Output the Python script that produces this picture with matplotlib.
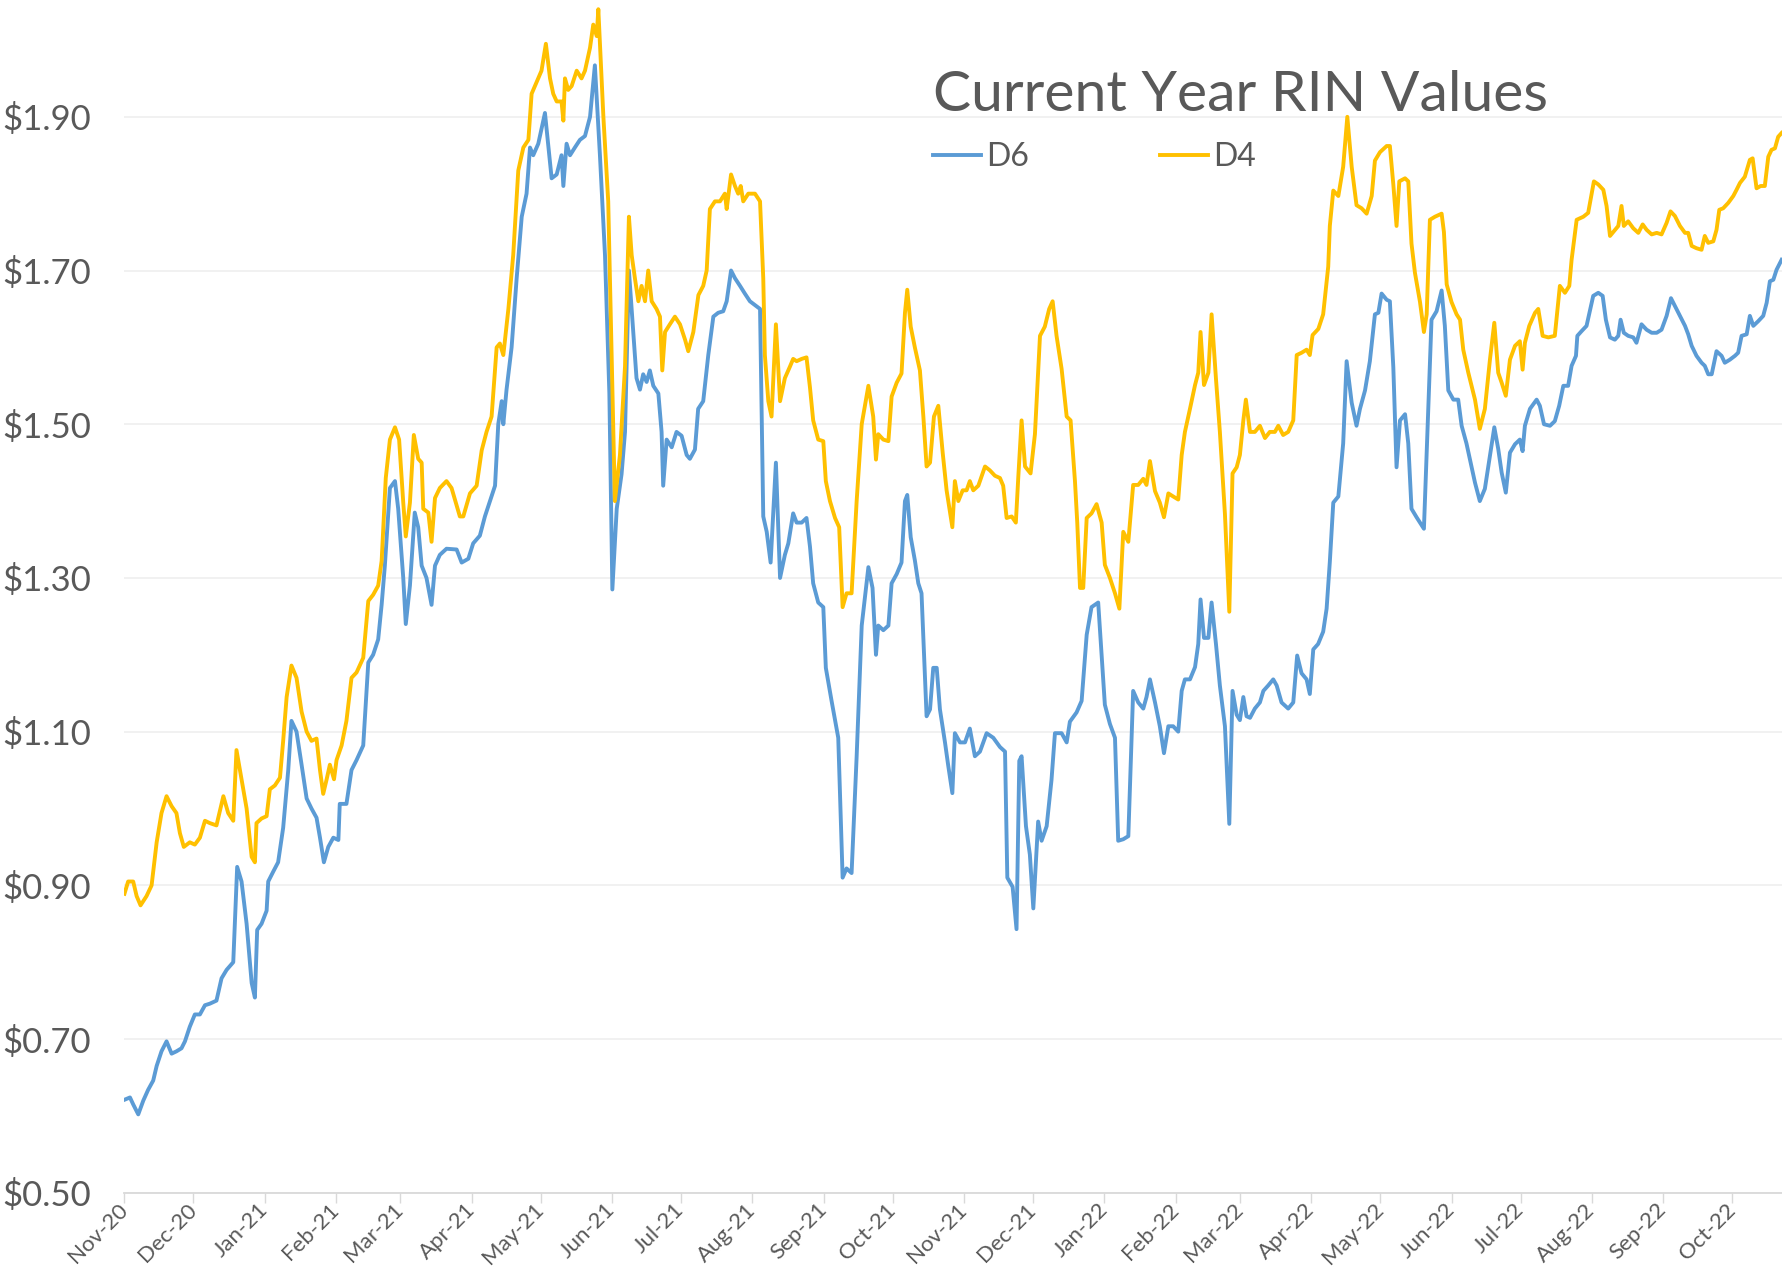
import matplotlib
matplotlib.use('Agg')
import matplotlib.pyplot as plt
import matplotlib.dates as mdates
import matplotlib.ticker as mticker
import pandas as pd

start = pd.Timestamp('2020-11-01')  # day 0 of the day offsets below

# D6 RIN price (days since 1 Nov 2020, $)
d6_day = [0, 2.4, 3.8, 6, 8.2, 10.3, 12.5, 14, 16.1, 18.3, 20.5, 22.6, 24.8, 26.3, 28.4, 30.6, 32.8, 35, 37.1, 40,
          42.2, 44.4, 47.3, 49, 50.9, 53.1, 55.3, 56.7, 57.7, 59.6, 61.8, 62.5, 64.7, 66.8, 69, 71.2, 72.6, 74.8, 77,
          79.2, 81.3, 83.5, 85, 86.7, 88.6, 90.8, 93, 93.6, 96.5, 98.7, 100.9, 103.8, 106, 108.1, 110.3, 111.8, 113.2,
          115.4, 117.6, 119, 121.2, 122.3, 124.1, 126.2, 127.7, 129.2, 131.3, 133.5, 135, 137.1, 140,
          144.4, 146.6, 149.5, 151.6, 154.5, 156.7, 158.9, 161.1, 162.5, 164, 164.7, 166.1, 168.3, 170.5, 172.7, 174.8,
          176.3, 177.7, 179.9, 182.8, 185.7, 187.9, 190, 190.8, 192.2, 193.7, 195.8, 198, 200.2, 202.4, 204.5, 206.7,
          208.9, 210.8, 212.1, 214, 216.1, 217.6, 219.3, 221.2, 222.6, 224.1, 225.5, 227, 228.4, 229.9, 232.1, 233.5,
          234.2, 235.7, 237.9, 240, 242.2, 244.4, 245.8, 248, 249.4, 251.6, 253.8, 256, 258.1, 260.3, 261.8, 263.7,
          265.4, 267.6, 269.7, 271.9, 274.1, 276.3, 277.7, 279.2, 280.9, 283.2, 285, 287.1, 288.6,
          290.7, 292.2, 294.4, 296.5, 298, 299.4, 301.6, 303.8, 304.9, 307.4, 310.3, 312.2, 313.9, 316.1, 318.3, 320.5,
          323.4, 325.2, 326.7, 327.7, 329.9, 332.1, 333.5, 335.7, 337.8, 339.3, 340.3, 341.8, 343.6, 345.1, 346.5,
          348.7, 350.2, 351.6, 353.1, 354.5, 356.7, 358.1, 359.9, 361, 363.2, 365.4, 367.5, 369.7, 371.9, 374.8, 377.7,
          380.6, 382.8, 383.8, 386.1, 387.8, 389, 390, 391.9, 393.6, 395.1, 397.2, 398.7, 400.9, 403, 404.5, 407.4,
          409.6, 411, 413.9, 416.1, 418.3, 420.4, 423.3, 424.8, 426.2, 428.4, 430.6, 432, 434.2, 436.4,
          438.5, 440.7, 442.9, 444.3, 445.8, 448, 450.1, 451.9, 453.8, 455.9, 458.1, 459.6, 461, 463.2, 465.4, 466.8,
          467.8, 469.3, 471.2, 472.6, 474.5, 476.2, 478.4, 480.3, 481.7, 483.5, 484.9, 486.4, 487.8, 489.3, 491.4,
          493.6, 495.1, 497.2, 499.4, 500.9, 503, 505.9, 508.1, 509.8, 511.7, 513.9, 515.3, 516.8, 518.9, 521.1, 522.6,
          524, 525.5, 527.7, 529.8, 531.3, 533.5, 535.6, 537.1, 539.3, 541.4, 543.6, 545.1, 546.5, 548.7, 550.1, 551.6,
          553, 554.5, 556.7, 558.1, 559.5, 561.7, 564.9, 566.8, 568.2, 570.4, 572.6, 574, 575.5, 577.7, 579.8, 581.3,
          583.4, 587.1, 589.2, 591.4, 593.6, 595.5, 597.2, 598.7, 600.5, 602.3, 604.5, 606.6, 607.8, 608.8, 611,
          613.9, 615.3, 617.1, 619.7, 621.8, 623.7, 625.5, 627.6, 629.1, 631, 631.6, 633.4, 635.6, 638.5, 640.7, 642.6,
          644, 645.8, 647.9, 649.4, 650.4, 651.8, 653.7, 655.9, 657.3, 659.5, 661.7, 663.9, 666.1, 668.2, 670.4, 672.3,
          674, 676.2, 678.4, 679.8, 681.3, 683.4, 685.6, 687, 688.5, 690, 692.1, 694.3, 695.7, 697.9, 700.1, 701.5,
          703, 705.2, 706.6, 708.1, 710.2, 712.4, 713.9, 715.3, 716.8, 718.2, 720.4]
d6_val = [0.621, 0.624, 0.615, 0.602, 0.62, 0.634, 0.646, 0.665, 0.684, 0.697, 0.681, 0.684, 0.688, 0.697, 0.716,
          0.732, 0.732, 0.744, 0.746, 0.75, 0.779, 0.79, 0.80, 0.924, 0.905, 0.85, 0.773, 0.754, 0.842, 0.85, 0.867,
          0.905, 0.918, 0.93, 0.975, 1.05, 1.114, 1.10, 1.057, 1.013, 1.00, 0.988, 0.962, 0.93, 0.95, 0.962, 0.959,
          1.006, 1.006, 1.05, 1.063, 1.082, 1.19, 1.20, 1.22, 1.265, 1.316, 1.417, 1.426, 1.39, 1.30, 1.24, 1.29,
          1.385, 1.366, 1.316, 1.30, 1.265, 1.316, 1.33, 1.338,
          1.337, 1.32, 1.325, 1.345, 1.355, 1.38, 1.40, 1.42, 1.50, 1.53, 1.50, 1.545, 1.60, 1.69, 1.77, 1.80, 1.86,
          1.85, 1.865, 1.905, 1.82, 1.825, 1.85, 1.81, 1.865, 1.85, 1.86, 1.87, 1.875, 1.90, 1.967, 1.85, 1.72, 1.54,
          1.285, 1.39, 1.435, 1.49, 1.70, 1.62, 1.56, 1.545, 1.565, 1.555, 1.57, 1.55, 1.54, 1.49, 1.42, 1.48, 1.47,
          1.49, 1.485, 1.46, 1.455, 1.467, 1.52, 1.53, 1.59, 1.64, 1.645, 1.647, 1.66, 1.70, 1.69, 1.68, 1.67, 1.66,
          1.655, 1.65, 1.38, 1.36, 1.32, 1.45, 1.30, 1.33, 1.345,
          1.384, 1.372, 1.372, 1.378, 1.341, 1.293, 1.268, 1.262, 1.183, 1.14, 1.092, 0.91, 0.922, 0.916, 1.068,
          1.238, 1.314, 1.287, 1.20, 1.238, 1.232, 1.238, 1.293, 1.305, 1.32, 1.40, 1.408, 1.353, 1.323, 1.293, 1.28,
          1.12, 1.129, 1.183, 1.183, 1.129, 1.086, 1.056, 1.02, 1.098, 1.086, 1.086, 1.104, 1.068, 1.074, 1.098, 1.092,
          1.08, 1.074, 0.91, 0.898, 0.843, 1.062, 1.068, 0.977, 0.94, 0.87, 0.983, 0.958, 0.977, 1.037, 1.098, 1.098,
          1.086, 1.113, 1.125, 1.14, 1.226, 1.262, 1.268, 1.20, 1.135, 1.11, 1.092, 0.958, 0.96, 0.964,
          1.153, 1.138, 1.13, 1.145, 1.168, 1.138, 1.107, 1.072, 1.107, 1.107, 1.10, 1.153, 1.168, 1.168, 1.184, 1.214,
          1.272, 1.222, 1.222, 1.268, 1.214, 1.16, 1.107, 0.98, 1.153, 1.122, 1.115, 1.145, 1.12, 1.118, 1.13, 1.138,
          1.153, 1.16, 1.168, 1.16, 1.138, 1.13, 1.138, 1.199, 1.176, 1.168, 1.149, 1.207, 1.214, 1.23, 1.26, 1.321,
          1.398, 1.406, 1.475, 1.582, 1.528, 1.498, 1.52, 1.544, 1.582, 1.643, 1.645, 1.67, 1.662, 1.66, 1.574, 1.444,
          1.505, 1.513, 1.475, 1.39, 1.379, 1.364, 1.52, 1.636, 1.647, 1.674, 1.628, 1.544, 1.532, 1.532, 1.498,
          1.475, 1.424, 1.40, 1.416, 1.459, 1.496, 1.468, 1.437, 1.411, 1.463, 1.474, 1.48, 1.465, 1.498, 1.52,
          1.532, 1.524, 1.50, 1.498, 1.504, 1.524, 1.55, 1.55, 1.576, 1.589, 1.615, 1.621, 1.628, 1.667, 1.671, 1.667,
          1.636, 1.613, 1.61, 1.615, 1.636, 1.619, 1.615, 1.613, 1.606, 1.63, 1.623, 1.619, 1.619, 1.623, 1.641, 1.664,
          1.654, 1.641, 1.628, 1.617, 1.602, 1.589, 1.58, 1.576, 1.565, 1.565, 1.595, 1.589, 1.58, 1.584, 1.589, 1.593,
          1.615, 1.617, 1.641, 1.628, 1.634, 1.641, 1.658, 1.686, 1.688, 1.701, 1.714]

# D4 RIN price (days since 1 Nov 2020, $)
d4_day = [0, 1.6, 3.8, 5.3, 7, 9.6, 11.8, 14, 16.1, 18.3, 20.5, 22.6, 24.1, 25.8, 28.4, 30.6, 32.8, 35, 37.1, 40, 43,
          45.1, 47.3, 48.7, 50.9, 53.1, 55.3, 56.7, 57.4, 59.6, 61.8, 63.2, 65.4, 67.6, 69, 70.5, 72.6, 74.8, 77, 79.2,
          81.3, 83.5, 85, 86.4, 87.9, 89.3, 91.1, 92.2, 94.4, 96.5, 98.7, 100.9, 103.8, 106, 108.1, 110.3, 111.8,
          113.6, 115.4, 117.6, 119.4, 121.2, 122.3, 124.1, 125.8, 127.7, 129.2, 129.9, 132.1, 133.5, 135, 137.1, 140,
          142.2, 145.8, 147.3, 150.2, 153.1, 155.3, 157.4, 159.6, 161.8, 163.2, 164.7, 166.9, 169, 171.2, 173.4,
          175.6, 177, 179.9, 181.3, 183.2, 185, 186.4, 187.9, 190, 190.8, 191.5, 192.9, 194.4, 196.6, 198.7, 200.2,
          202.4, 203.8, 205.3, 206, 208.2, 210.3, 211.8, 213.2, 215.4, 217.6, 219.3, 220.5, 221.9, 223.4, 224.8,
          226.3, 227.7, 229.2, 231.3, 232.8, 233.8, 235, 237.1, 239.3, 241.5, 243.7, 245.1, 247.3, 249.5, 251.6,
          253.1, 254.5, 256.7, 258.9, 261, 261.8, 263.7, 265.4, 266.8, 267.9, 269, 271.2, 274.1, 276.3, 277.7, 278.4,
          279.9, 281.3, 283.2, 285, 287.1, 289.3,
          290.7, 292.2, 294.4, 296.5, 298, 299.4, 301.6, 303.8, 304.9, 306.7, 308.9, 310.7, 312.2, 313.9, 316.1,
          318.3, 320.5, 323.4, 325.5, 326.7, 327.7, 329.9, 332.1, 333.5, 335.7, 337.8, 339.3, 340.3, 341.8, 343.6,
          345.8, 347.3, 348.7, 350.2, 351.9, 353.8, 355.7, 357.4, 359.9, 361, 362.5, 364.4, 366.1, 367.5, 369, 371.2,
          374.1, 376.2, 378.4, 380.6, 382, 383.5, 385.7, 387.5, 388.6, 390, 391.5, 393.9, 395.8, 398, 400.1, 402,
          403.5, 405.2, 407.4, 409.6, 411.3, 413.2, 414.2, 415.4, 416.8, 418.3, 420.4, 422.6, 424.8, 426.2, 428.4,
          430.6, 432.5, 434.2, 436.4,
          438.5, 440.7, 442.9, 444.3, 445.8, 448, 450.1, 451.9, 453.8, 455.9, 458.1, 459.6, 461, 463.2, 465.4, 466.8,
          467.8, 469.3, 471.2, 472.6, 474.5, 476.2, 478.4, 480.3, 481.7, 483.5, 484.9, 486.4, 487.5, 489.3, 491.4,
          493.6, 495.8, 497.9, 500.1, 501.6, 503.7, 505.9, 508.1, 509.6, 511.7, 513.9, 515.3, 516.5, 519, 521.1,
          523.3, 524, 525.5, 527.7, 529.8, 531.6, 533.5, 535.6, 537.8, 540, 542.2, 543.6, 545.8, 548.7, 550.1, 551.6,
          553, 554.2, 556.7, 558.1, 559.5, 561, 563.2, 564.9, 566.1, 567.5, 569.7, 572.6, 573.6, 574.8, 576.9, 579.1,
          580.6, 582, 584.2,
          587.1, 589.2, 591.4, 593.6, 595.5, 597.2, 598.7, 600.5, 602.3, 604.5, 606.6, 607.8, 608.8, 610.7, 613.2,
          614.6, 616.5, 619, 621.8, 624, 626.2, 628.1, 629.1, 631.3, 634.2, 636.3, 638.8, 640.7, 642.9, 644.3, 645.8,
          648, 649.4, 650.8, 651.8, 653.7, 655.9, 658.1, 660, 661.7, 663.9, 666.1, 668.2, 670.4, 672.1, 674, 676.2,
          678.4, 679.8, 681.3, 683.4, 685.6, 687, 688.5, 690.7, 692.1, 693.3, 695, 697.2, 699.4, 700.8, 702.3, 704.4,
          706.6, 707.8, 709.5, 711.3, 713.1, 714.6, 716, 717.5, 718.9, 720.4]
d4_val = [0.889, 0.905, 0.905, 0.886, 0.874, 0.886, 0.90, 0.956, 0.994, 1.016, 1.003, 0.994, 0.968, 0.95, 0.956,
          0.953, 0.962, 0.984, 0.981, 0.978, 1.016, 0.994, 0.984, 1.076, 1.038, 1.00, 0.937, 0.93, 0.981, 0.987, 0.99,
          1.025, 1.03, 1.04, 1.088, 1.145, 1.186, 1.17, 1.126, 1.10, 1.088, 1.091, 1.05, 1.019, 1.038, 1.057, 1.038,
          1.063, 1.082, 1.114, 1.17, 1.177, 1.196, 1.27, 1.278, 1.29, 1.322, 1.43, 1.48, 1.496, 1.48, 1.398, 1.354,
          1.398, 1.486, 1.455, 1.45, 1.39, 1.385, 1.347, 1.404, 1.417, 1.426,
          1.417, 1.38, 1.38, 1.41, 1.42, 1.466, 1.49, 1.51, 1.60, 1.605, 1.59, 1.65, 1.72, 1.83, 1.86, 1.87, 1.93,
          1.95, 1.96, 1.995, 1.95, 1.93, 1.92, 1.92, 1.895, 1.95, 1.935, 1.94, 1.96, 1.95, 1.96, 1.99, 2.02, 2.005,
          2.04, 1.90, 1.79, 1.59, 1.40, 1.46, 1.575, 1.77, 1.72, 1.69, 1.66, 1.68, 1.66, 1.70, 1.66, 1.65, 1.64, 1.57,
          1.62, 1.63, 1.64, 1.63, 1.61, 1.595, 1.62, 1.668, 1.68, 1.70, 1.78, 1.79, 1.79, 1.80, 1.78, 1.825, 1.81,
          1.80, 1.81, 1.79, 1.80, 1.80, 1.79, 1.69, 1.59, 1.53, 1.51, 1.63, 1.53, 1.56, 1.575,
          1.585, 1.582, 1.585, 1.587, 1.548, 1.505, 1.48, 1.478, 1.426, 1.40, 1.378, 1.366, 1.262, 1.28, 1.28, 1.40,
          1.50, 1.55, 1.51, 1.454, 1.487, 1.48, 1.478, 1.536, 1.554, 1.566, 1.645, 1.675, 1.627, 1.60, 1.57, 1.51,
          1.445, 1.45, 1.51, 1.524, 1.463, 1.414, 1.366, 1.426, 1.40, 1.414, 1.414, 1.426, 1.414, 1.42, 1.445, 1.44,
          1.433, 1.43, 1.42, 1.378, 1.38, 1.372, 1.433, 1.505, 1.445, 1.436, 1.487, 1.615, 1.627, 1.65, 1.66, 1.615,
          1.572, 1.51, 1.505, 1.426, 1.372, 1.287, 1.287, 1.378, 1.384, 1.396, 1.372, 1.317, 1.30, 1.28, 1.26, 1.36,
          1.347,
          1.421, 1.421, 1.429, 1.421, 1.452, 1.413, 1.398, 1.379, 1.41, 1.406, 1.402, 1.46, 1.49, 1.52, 1.551, 1.567,
          1.62, 1.551, 1.567, 1.643, 1.559, 1.49, 1.383, 1.256, 1.436, 1.444, 1.46, 1.505, 1.532, 1.49, 1.49, 1.498,
          1.482, 1.49, 1.49, 1.498, 1.486, 1.49, 1.505, 1.59, 1.593, 1.597, 1.59, 1.616, 1.624, 1.643, 1.705, 1.758,
          1.804, 1.797, 1.835, 1.90, 1.835, 1.785, 1.781, 1.774, 1.797, 1.843, 1.854, 1.862, 1.862, 1.812, 1.758,
          1.816, 1.82, 1.816, 1.735, 1.697, 1.659, 1.62, 1.643, 1.766, 1.77, 1.774, 1.75, 1.682, 1.659, 1.643, 1.636,
          1.597, 1.567,
          1.532, 1.494, 1.52, 1.584, 1.632, 1.567, 1.554, 1.537, 1.584, 1.602, 1.608, 1.571, 1.606, 1.628, 1.645,
          1.65, 1.615, 1.613, 1.615, 1.68, 1.671, 1.68, 1.714, 1.766, 1.77, 1.775, 1.816, 1.812, 1.805, 1.784, 1.745,
          1.753, 1.758, 1.784, 1.758, 1.764, 1.755, 1.749, 1.76, 1.753, 1.747, 1.749, 1.747, 1.762, 1.777, 1.771,
          1.758, 1.749, 1.749, 1.732, 1.729, 1.727, 1.745, 1.736, 1.738, 1.753, 1.779, 1.781, 1.788, 1.797, 1.805,
          1.814, 1.822, 1.844, 1.846, 1.807, 1.81, 1.81, 1.848, 1.857, 1.859, 1.874, 1.879]

y_ticks = [0.5, 0.7, 0.9, 1.1, 1.3, 1.5, 1.7, 1.9]
title = 'Current Year RIN Values'

d6_dates = start + pd.to_timedelta(d6_day, unit='D')
d4_dates = start + pd.to_timedelta(d4_day, unit='D')

plt.rcParams['font.family'] = ['Lato', 'DejaVu Sans']
grey = '#595959'

fig = plt.figure(figsize=(17.83, 12.72), dpi=100)
ax = fig.add_axes([0.0698, 0.0623, 0.9302, 0.9377])

ax.plot(d6_dates, d6_val, color='#5B9BD5', lw=2.8, solid_joinstyle='round', label='D6')
ax.plot(d4_dates, d4_val, color='#FFC000', lw=2.8, solid_joinstyle='round', label='D4')

ax.set_ylim(0.5, 2.052)
ax.set_xlim(start, start + pd.Timedelta(days=721))
ax.set_yticks(y_ticks)
ax.yaxis.set_major_formatter(mticker.FuncFormatter(lambda v, p: '${:.2f}'.format(v)))
ax.grid(axis='y', color='#efefef', lw=1.2)
ax.set_axisbelow(True)

ax.xaxis.set_major_locator(mdates.MonthLocator())
ax.xaxis.set_major_formatter(mdates.DateFormatter('%b-%y'))
ax.tick_params(axis='y', length=0, pad=24, labelsize=25, labelcolor=grey)
ax.tick_params(axis='x', length=7, width=1, color='#d9d9d9', pad=3, labelsize=16, labelcolor=grey)
for lbl in ax.get_xticklabels():
    lbl.set_rotation(45)
    lbl.set_ha('right')
    lbl.set_va('center')
    lbl.set_rotation_mode('anchor')

for s in ['top', 'right', 'left']:
    ax.spines[s].set_visible(False)
ax.spines['bottom'].set_color('#d9d9d9')
ax.spines['bottom'].set_linewidth(1.3)

fig.text(0.523, 0.913, title, fontsize=41, color=grey, va='baseline', ha='left')
fig.legend(loc='center left', bbox_to_anchor=(0.5235, 0.8766), ncol=2, frameon=False,
           fontsize=23, labelcolor=grey, handlelength=1.5, handletextpad=0.15,
           columnspacing=4.1, borderpad=0, borderaxespad=0)

fig.savefig('out.png', dpi=100)
